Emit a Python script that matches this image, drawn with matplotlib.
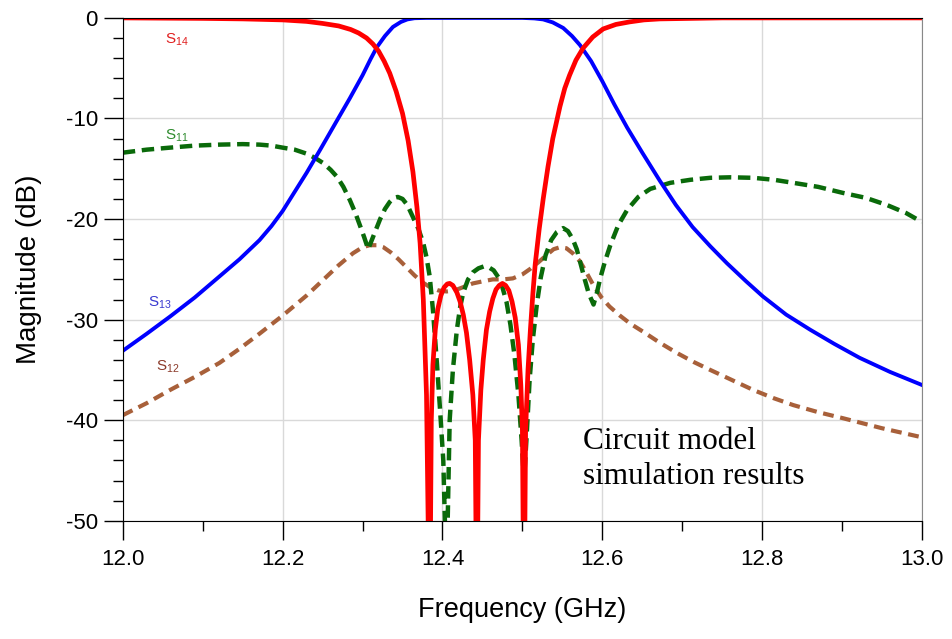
import matplotlib
matplotlib.use('Agg')
import matplotlib.pyplot as plt
from matplotlib.ticker import MultipleLocator, FormatStrFormatter

# S14 (red, solid)
f14 = [12.0, 12.1, 12.15, 12.2, 12.23, 12.25, 12.27, 12.285, 12.295, 12.305,
       12.313, 12.32, 12.327, 12.334, 12.342, 12.35, 12.357, 12.363, 12.368,
       12.372, 12.376, 12.380, 12.384,
       12.386, 12.388, 12.391, 12.394, 12.398, 12.402, 12.406, 12.409, 12.413,
       12.418, 12.422, 12.426, 12.430, 12.434, 12.438, 12.441, 12.443,
       12.445, 12.448, 12.451, 12.455, 12.459, 12.463, 12.467, 12.471, 12.475,
       12.479, 12.483, 12.487, 12.491, 12.495, 12.498, 12.500, 12.502,
       12.504, 12.507, 12.510, 12.513, 12.516, 12.521, 12.526, 12.532, 12.538,
       12.547, 12.553, 12.559, 12.567, 12.576, 12.588, 12.601, 12.617, 12.634,
       12.652, 12.672, 12.75, 13.0]
s14 = [0.0, -0.05, -0.1, -0.2, -0.35, -0.55, -0.8, -1.15, -1.5, -2.0,
       -2.6, -3.3, -4.3, -5.5, -7.3, -9.5, -12.2, -15.3, -18.8,
       -22.4, -28.0, -37.5, -62.0,
       -40.0, -34.5, -31.0, -29.0, -27.6, -26.8, -26.45, -26.4, -26.6,
       -27.3, -28.2, -29.5, -31.3, -34.0, -37.5, -42.0, -62.0,
       -42.0, -37.0, -34.0, -31.0, -29.2, -27.9, -27.0, -26.6, -26.4,
       -26.6, -27.1, -28.2, -29.8, -32.5, -36.5, -41.0, -62.0,
       -41.0, -35.0, -31.0, -27.5, -24.5, -21.0, -18.0, -14.8, -12.0,
       -8.8, -7.0, -5.7, -4.2, -3.0, -1.9, -1.1, -0.65, -0.4,
       -0.2, -0.1, 0.0, 0.0]

# S13 (blue, solid)
f13 = [12.0, 12.03, 12.059, 12.09, 12.121, 12.146, 12.171, 12.186, 12.2, 12.215,
       12.23, 12.247, 12.268, 12.284, 12.30, 12.31, 12.318, 12.328, 12.338,
       12.348, 12.356, 12.365, 12.38, 12.50, 12.515, 12.526, 12.538, 12.551,
       12.562, 12.572, 12.586, 12.60, 12.615, 12.631, 12.65, 12.672, 12.692,
       12.713, 12.735, 12.756, 12.78, 12.801, 12.83, 12.86, 12.89, 12.922,
       12.96, 13.0]
s13 = [-33.1, -31.4, -29.7, -27.8, -25.7, -24.0, -22.1, -20.7, -19.2, -17.3,
       -15.4, -13.1, -10.2, -8.0, -5.7, -4.1, -2.9, -1.8, -0.9,
       -0.4, -0.15, -0.03, 0.0, 0.0, -0.05, -0.15, -0.45, -1.0,
       -1.8, -2.7, -4.3, -6.3, -8.6, -10.9, -13.4, -16.2, -18.6,
       -20.8, -22.7, -24.4, -26.2, -27.7, -29.5, -31.0, -32.4, -33.8,
       -35.2, -36.5]

# S11 (green, dashed)
f11 = [12.0, 12.03, 12.059, 12.09, 12.121, 12.15, 12.171, 12.186, 12.2, 12.215,
       12.23, 12.24, 12.25, 12.26, 12.268, 12.276, 12.284, 12.291, 12.297,
       12.302, 12.307, 12.312, 12.317, 12.322, 12.328, 12.334, 12.339, 12.344,
       12.35, 12.356, 12.363, 12.37, 12.376, 12.38, 12.384, 12.388, 12.393,
       12.397, 12.401, 12.405, 12.409, 12.413, 12.418, 12.422, 12.426, 12.432,
       12.438, 12.445, 12.452, 12.458, 12.464, 12.47, 12.475, 12.48, 12.485,
       12.49, 12.495, 12.499, 12.502, 12.505, 12.509, 12.513, 12.518, 12.523,
       12.529, 12.536, 12.543, 12.551, 12.557, 12.563, 12.568, 12.573, 12.578,
       12.583, 12.589, 12.593, 12.597, 12.603, 12.61, 12.62, 12.631, 12.645,
       12.66, 12.685, 12.71, 12.735, 12.76, 12.789, 12.815, 12.839, 12.87,
       12.901, 12.93, 12.956, 12.98, 13.0]
s11 = [-13.4, -13.1, -12.9, -12.7, -12.6, -12.55, -12.6, -12.7, -12.9, -13.1,
       -13.5, -13.9, -14.4, -15.1, -15.8, -16.8, -18.1, -19.4, -20.7,
       -21.8, -23.0, -22.0, -21.0, -20.0, -19.0, -18.3, -17.9, -17.8,
       -18.0, -18.6, -19.8, -21.0, -22.4, -23.8, -25.7, -29.0, -34.3,
       -39.0, -44.0, -56.0, -40.0, -35.0, -31.0, -28.8, -27.3, -26.0,
       -25.3, -24.9, -24.7, -24.8, -25.1, -25.8, -26.8, -28.2, -30.5,
       -33.5, -37.5, -42.0, -46.0, -42.0, -36.0, -32.0, -28.5, -25.8,
       -23.6, -22.1, -21.3, -20.9, -21.2, -22.0, -23.0, -24.5, -26.0,
       -27.4, -28.5, -27.4, -26.0, -24.3, -22.6, -20.6, -19.1, -17.8,
       -17.0, -16.4, -16.1, -15.9, -15.85, -15.9, -16.1, -16.4, -16.8,
       -17.4, -17.9, -18.6, -19.4, -20.3]

# S12 (brown, dashed)
f12 = [12.0, 12.03, 12.059, 12.09, 12.121, 12.146, 12.171, 12.2, 12.23, 12.25,
       12.27, 12.288, 12.3, 12.309, 12.318, 12.326, 12.335, 12.345, 12.355,
       12.365, 12.375, 12.385, 12.395, 12.405, 12.415, 12.425, 12.438, 12.45,
       12.463, 12.476, 12.488, 12.5, 12.509, 12.52, 12.53, 12.539, 12.547,
       12.555, 12.563, 12.572, 12.58, 12.589, 12.599, 12.609, 12.622, 12.635,
       12.651, 12.672, 12.693, 12.714, 12.735, 12.762, 12.789, 12.814, 12.839,
       12.87, 12.901, 12.95, 13.0]
s12 = [-39.5, -38.3, -37.0, -35.7, -34.3, -32.9, -31.4, -29.6, -27.6, -26.1,
       -24.6, -23.4, -22.8, -22.6, -22.6, -22.8, -23.3, -24.0, -24.8,
       -25.6, -26.3, -26.8, -27.1, -27.2, -27.1, -26.8, -26.4, -26.2,
       -26.0, -26.0, -25.9, -25.5, -25.0, -24.3, -23.6, -23.0, -22.8,
       -22.9, -23.4, -24.2, -25.3, -26.6, -27.8, -28.7, -29.6, -30.4,
       -31.2, -32.3, -33.3, -34.2, -35.0, -36.0, -37.0, -37.8, -38.5,
       -39.2, -39.8, -40.8, -41.7]

plt.rcParams['font.family'] = ['Liberation Sans', 'DejaVu Sans']
plt.rcParams['axes.unicode_minus'] = False

fig = plt.figure(figsize=(9.52, 6.39), dpi=100)
ax = fig.add_axes([0.129, 0.185, 0.8395, 0.787])

ax.plot(f12, s12, color='#a8603a', lw=3.0, dashes=(2.6, 1.6))
ax.plot(f11, s11, color='#0a6a0a', lw=3.2, dashes=(2.8, 1.5))
ax.plot(f13, s13, color='#0000ff', lw=2.8)
ax.plot(f14, s14, color='#ff0000', lw=3.4)

ax.text(12.053, -2.2, r'S$_{\mathregular{14}}$', color='#e02020', fontsize=11,
        va='center')
ax.text(12.053, -11.7, r'S$_{\mathregular{11}}$', color='#2e8b2e', fontsize=11,
        va='center')
ax.text(12.031, -28.3, r'S$_{\mathregular{13}}$', color='#3a3ad0', fontsize=11,
        va='center')
ax.text(12.041, -34.7, r'S$_{\mathregular{12}}$', color='#8b3a2a', fontsize=11,
        va='center')
ax.text(12.576, -40.7, 'Circuit model\nsimulation results', fontsize=22.5,
        family='Liberation Serif', va='top', ha='left', linespacing=1.28)

ax.set_xlim(12.0, 13.0)
ax.set_ylim(-50, 0)
ax.xaxis.set_major_locator(MultipleLocator(0.2))
ax.xaxis.set_minor_locator(MultipleLocator(0.1))
ax.yaxis.set_major_locator(MultipleLocator(10))
ax.yaxis.set_minor_locator(MultipleLocator(2))
ax.xaxis.set_major_formatter(FormatStrFormatter('%.1f'))

ax.tick_params(which='major', length=14, width=1, labelsize=16, direction='out')
ax.tick_params(which='minor', length=7, width=1, direction='out')
ax.tick_params(axis='x', pad=6)
ax.tick_params(axis='y', pad=4)

ax.grid(True, which='major', color='#d9d9d9', lw=1)
ax.set_axisbelow(True)
for s in ['left', 'bottom', 'top']:
    ax.spines[s].set_color('black')
ax.spines['right'].set_color('#888888')

ax.set_xlabel('Frequency (GHz)', fontsize=19.5, labelpad=20)
ax.set_ylabel('Magnitude (dB)', fontsize=20, labelpad=17)

fig.savefig('out.png', dpi=100)
